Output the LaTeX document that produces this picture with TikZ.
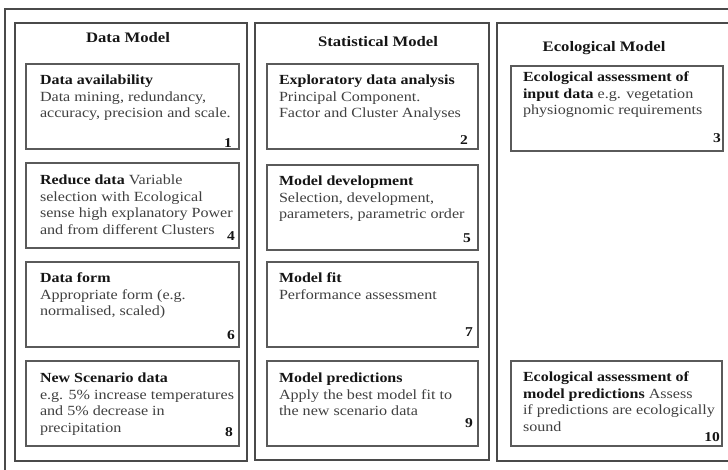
\documentclass[tikz,border=0pt]{standalone}
\usepackage{fontspec}
\setmainfont[FakeStretch=1.15]{Liberation Serif}
\definecolor{bodyc}{HTML}{404040}
\definecolor{headc}{HTML}{151515}
\definecolor{linec}{HTML}{5A5A5A}
\definecolor{framec}{HTML}{4A4A4A}
\newcommand\hd[1]{{\fontsize{13.9}{16.5}\selectfont\bfseries\color{headc}#1}}
\begin{document}
\begin{tikzpicture}[x=1pt,y=-1pt,
  frame/.style={draw=framec, line width=1.2pt, rectangle, inner sep=0pt, outer sep=0pt, anchor=north west},
  stepbox/.style={draw=linec, line width=1.4pt, rectangle, inner sep=0pt, outer sep=0pt, anchor=north west, minimum height=85pt},
  txt/.style={anchor=north west, inner sep=0pt, outer sep=0pt, align=left, text=bodyc, font=\fontsize{14}{16.5}\selectfont},
  num/.style={anchor=south east, inner sep=0pt, outer sep=0pt, font=\fontsize{13.5}{16}\selectfont\bfseries, text=headc},
  ttl/.style={inner sep=0pt, font=\fontsize{14.5}{16}\selectfont\bfseries, text=headc}]
\useasboundingbox (0,0) rectangle (728,469);
\clip (0,0) rectangle (728,469);
\fill[white] (0,0) rectangle (728,469);

% outer frame and columns
\node[frame, minimum width=740pt, minimum height=480pt] (outer) at (5,9) {};
\node[frame, minimum width=232pt, minimum height=438pt] (c1) at (15,23) {};
\node[frame, minimum width=234pt, minimum height=437pt] (c2) at (255,23) {};
\node[frame, minimum width=260pt, minimum height=438pt] (c3) at (497,23) {};

% titles
\node[ttl] (h1) at (128,38) {Data Model};
\node[ttl] (h2) at (378,42) {Statistical Model};
\node[ttl] (h3) at (604,48) {Ecological Model};

% column 1
\node[stepbox, minimum width=213pt] (b1) at (26,64) {};
\node[txt] (t1) at ([xshift=14pt,yshift=-11pt]b1.north west) {\hd{Data availability}\\Data mining, redundancy,\\accuracy, precision and scale.};
\node[num] (n1) at ([xshift=-7pt,yshift=2pt]b1.south east) {1};

\node[stepbox, minimum width=213pt] (b4) at (26,163) {};
\node[txt] (t4) at ([xshift=14pt,yshift=-12pt]b4.north west) {\hd{Reduce data} Variable\\selection with Ecological\\sense high explanatory Power\\and from different Clusters};
\node[num] (n4) at ([xshift=-4pt,yshift=8pt]b4.south east) {4};

\node[stepbox, minimum width=213pt] (b6) at (26,262) {};
\node[txt] (t6) at ([xshift=14pt,yshift=-11pt]b6.north west) {\hd{Data form}\\Appropriate form (e.g.\\normalised, scaled)};
\node[num] (n6) at ([xshift=-4pt,yshift=7pt]b6.south east) {6};

\node[stepbox, minimum width=213pt] (b8) at (26,361) {};
\node[txt] (t8) at ([xshift=14pt,yshift=-12pt]b8.north west) {\hd{New Scenario data}\\e.g. 5\% increase temperatures\\and 5\% decrease in\\precipitation};
\node[num] (n8) at ([xshift=-6pt,yshift=9pt]b8.south east) {8};

% column 2
\node[stepbox, minimum width=211pt] (b2) at (267,64) {};
\node[txt] (t2) at ([xshift=12pt,yshift=-11pt]b2.north west) {\hd{Exploratory data analysis}\\Principal Component.\\Factor and Cluster Analyses};
\node[num] (n2) at ([xshift=-10pt,yshift=5pt]b2.south east) {2};

\node[stepbox, minimum width=211pt] (b5) at (267,165) {};
\node[txt] (t5) at ([xshift=12pt,yshift=-11pt]b5.north west) {\hd{Model development}\\Selection, development,\\parameters, parametric order};
\node[num] (n5) at ([xshift=-7pt,yshift=7pt]b5.south east) {5};

\node[stepbox, minimum width=211pt] (b7) at (267,262) {};
\node[txt] (t7) at ([xshift=12pt,yshift=-11pt]b7.north west) {\hd{Model fit}\\Performance assessment};
\node[num] (n7) at ([xshift=-5pt,yshift=11pt]b7.south east) {7};

\node[stepbox, minimum width=211pt] (b9) at (267,361) {};
\node[txt] (t9) at ([xshift=12pt,yshift=-12pt]b9.north west) {\hd{Model predictions}\\Apply the best model fit to\\the new scenario data};
\node[num] (n9) at ([xshift=-5pt,yshift=18pt]b9.south east) {9};

% column 3
\node[stepbox, minimum width=212pt] (b3) at (511,66) {};
\node[txt] (t3) at ([xshift=12pt,yshift=-6pt]b3.north west) {\hd{Ecological assessment of}\\\hd{input data} e.g. vegetation\\physiognomic requirements};
\node[num] (n3) at ([xshift=-2pt,yshift=8pt]b3.south east) {3};

\node[stepbox, minimum width=211pt] (b10) at (511,361) {};
\node[txt] (t10) at ([xshift=12pt,yshift=-11pt]b10.north west) {\hd{Ecological assessment of}\\\hd{model predictions} Assess\\if predictions are ecologically\\sound};
\node[num] (n10) at ([xshift=-2pt,yshift=4pt]b10.south east) {10};
\end{tikzpicture}
\end{document}
